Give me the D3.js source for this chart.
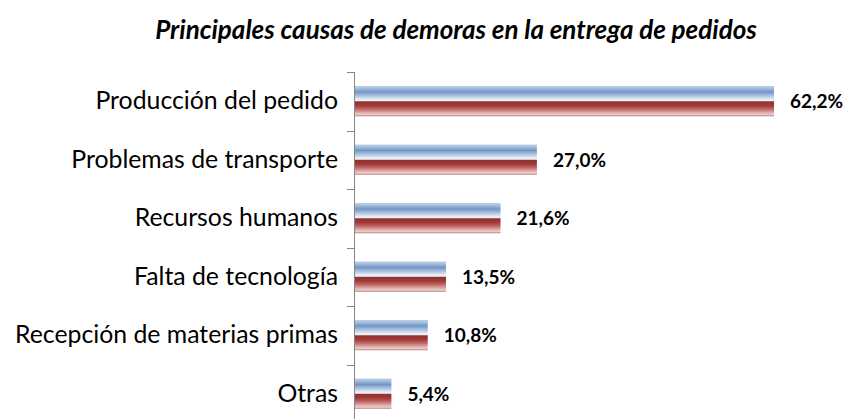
<!DOCTYPE html>
<html>
<head>
<meta charset="utf-8">
<script src="https://cdn.jsdelivr.net/npm/d3@7"></script>
<style>
  html, body { margin: 0; padding: 0; background: #fff; }
  svg { display: block; }
</style>
</head>
<body>
<svg id="chart" width="845" height="419"></svg>
<script>
// ---- data ----
const title = "Principales causas de demoras en la entrega de pedidos";
const categories = [
  "Producción del pedido",
  "Problemas de transporte",
  "Recursos humanos",
  "Falta de tecnología",
  "Recepción de materias primas",
  "Otras"
];
const seriesA = [62.2, 27.0, 21.6, 13.5, 10.8, 5.4];
const seriesB = [62.2, 27.0, 21.6, 13.5, 10.8, 5.4];
const valueLabels = ["62,2%", "27,0%", "21,6%", "13,5%", "10,8%", "5,4%"];
const seriesNames = ["A", "B"];

// ---- layout ----
const axisX = 355, plotTop = 72, step = 58.5;
const svg = d3.select("#chart");
const FONT = "Lato, 'Open Sans', sans-serif";

const x = d3.scaleLinear().domain([0, 70]).range([axisX, axisX + 70 * 6.737]);
const y = d3.scaleBand().domain(categories)
  .range([plotTop, plotTop + step * categories.length])
  .paddingInner(1 - 30 / 58.5).paddingOuter((1 - 30 / 58.5) / 2);
const ys = d3.scaleBand().domain(seriesNames).range([0, y.bandwidth()]);

// gradients
const defs = svg.append("defs");
const gA = defs.append("linearGradient").attr("id", "gA").attr("x1", 0).attr("y1", 0).attr("x2", 0).attr("y2", 1);
[[0, "#c3d4ea"], [0.12, "#a9c1e0"], [0.38, "#7296c5"], [0.6, "#a3bcdc"], [0.85, "#dfe8f3"], [1, "#f5f8fc"]]
  .forEach(([o, c]) => gA.append("stop").attr("offset", o).attr("stop-color", c));
const gB = defs.append("linearGradient").attr("id", "gB").attr("x1", 0).attr("y1", 0).attr("x2", 0).attr("y2", 1);
[[0, "#8f2e2c"], [0.3, "#a13c3a"], [0.55, "#c46e6c"], [0.8, "#e6b8b7"], [1, "#f4dedd"]]
  .forEach(([o, c]) => gB.append("stop").attr("offset", o).attr("stop-color", c));

// title
svg.append("text")
  .attr("x", 456).attr("y", 39)
  .attr("text-anchor", "middle")
  .style("font-family", FONT)
  .style("font-size", "26px").style("font-weight", "bold").style("font-style", "italic")
  .attr("fill", "#000")
  .text(title);

// bars
const rows = categories.map((c, i) => ({ c, a: seriesA[i], b: seriesB[i], lab: valueLabels[i] }));
const g = svg.append("g");
const row = g.selectAll("g.row").data(rows).enter().append("g").attr("class", "row")
  .attr("transform", d => `translate(0,${y(d.c)})`);

row.append("rect")
  .attr("x", x(0)).attr("y", ys("A"))
  .attr("width", d => x(d.a) - x(0)).attr("height", ys.bandwidth())
  .attr("fill", "url(#gA)");
row.append("rect")
  .attr("x", x(0)).attr("y", ys("B"))
  .attr("width", d => x(d.b) - x(0)).attr("height", ys.bandwidth())
  .attr("fill", "url(#gB)");
row.append("line")
  .attr("x1", x(0)).attr("x2", d => x(d.a))
  .attr("y1", ys("A") + 0.5).attr("y2", ys("A") + 0.5)
  .attr("stroke", "#b3c6df").attr("stroke-width", 1);
row.append("line")
  .attr("x1", x(0)).attr("x2", d => x(d.b))
  .attr("y1", ys("B") + ys.bandwidth() - 0.5).attr("y2", ys("B") + ys.bandwidth() - 0.5)
  .attr("stroke", "#b9908d").attr("stroke-width", 1);

// value labels
row.append("text")
  .attr("x", d => x(Math.max(d.a, d.b)) + 16)
  .attr("y", y.bandwidth() / 2)
  .attr("dy", "0.36em")
  .style("font-family", FONT)
  .style("font-size", "19px").style("font-weight", "bold")
  .attr("fill", "#000")
  .text(d => d.lab);

// axis
const axis = svg.append("g").attr("transform", `translate(${axisX},0)`)
  .call(d3.axisLeft(y).tickSize(0).tickPadding(17).tickSizeOuter(0));
axis.select(".domain").remove();
axis.selectAll("text")
  .style("font-family", FONT)
  .style("font-size", "24.8px")
  .attr("fill", "#000");
svg.append("line")
  .attr("x1", axisX - 0.5).attr("x2", axisX - 0.5)
  .attr("y1", y.range()[0]).attr("y2", y.range()[1])
  .attr("stroke", "#868686").attr("stroke-width", 1);
// tick marks between categories
const boundaries = d3.range(categories.length + 1).map(i => y.range()[0] + i * y.step());
svg.selectAll("line.tk").data(boundaries).enter().append("line").attr("class", "tk")
  .attr("x1", axisX - 8).attr("x2", axisX)
  .attr("y1", d => Math.round(d) + 0.5).attr("y2", d => Math.round(d) + 0.5)
  .attr("stroke", "#868686").attr("stroke-width", 1);
</script>
</body>
</html>
